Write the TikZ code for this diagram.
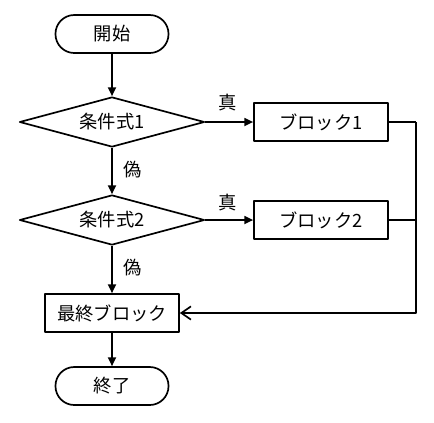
\documentclass[tikz,border=0pt]{standalone}
\usepackage{fontspec}
\setmainfont{Noto Sans CJK JP}
\usetikzlibrary{arrows.meta,shapes.geometric}
\tikzset{
  term/.style={draw,rounded corners=.47cm,minimum width=2.825cm,minimum height=.95cm,inner sep=0pt},
  cond/.style={draw,diamond,aspect=3.7,minimum width=4.625cm,minimum height=1.25cm,inner sep=0pt},
  blk/.style={draw,rectangle,minimum width=3.35cm,minimum height=.95cm,inner sep=0pt},
  lbl/.style={inner sep=0pt},
}
\begin{document}
\begin{tikzpicture}[x=.025cm,y=-.025cm,line width=1.2pt,line join=round,
  font=\fontsize{13}{15}\selectfont,>={Triangle[length=2.2mm,width=2mm]}]
\useasboundingbox (0,0) rectangle (434,422);
\node[term] (start) at (112,34) {開始};
\node[cond] (c1) at (112,122) {条件式1};
\node[cond] (c2) at (112,220) {条件式2};
\node[blk] (b1) at (321,122) {ブロック1};
\node[blk] (b2) at (321,220) {ブロック2};
\node[blk] (fin) at (112,313) {最終ブロック};
\node[term] (end) at (112,386) {終了};
% labels
\foreach \x/\y/\g/\n in {228/103/真/t1,228/203/真/t2,133/170/偽/f1,133/268/偽/f2}
  \node[lbl] (\n) at (\x,\y) {\g};
% arrows
\foreach \a/\b in {start/c1,c1/c2,c2/fin,fin/end}\draw[->] (\a) -- (\b);
\foreach \a/\b in {c1/b1,c2/b2}\draw[->] (\a.east) -- (\b.west);
\coordinate (bend) at (416,122);
\draw (b1.east) -- (bend);
\draw (b2.east) -- (b2.east -| bend);
\draw[-{Straight Barb[length=2.4mm,width=3.3mm]}] (bend) |- (fin.east);
\end{tikzpicture}
\end{document}
